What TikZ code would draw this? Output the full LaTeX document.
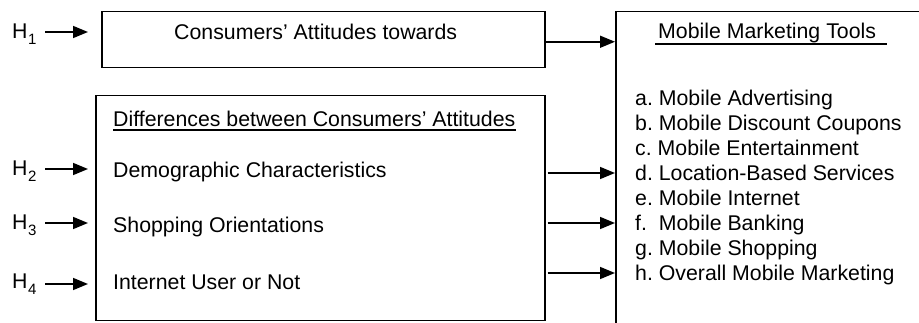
\documentclass[tikz,border=0pt]{standalone}
\usepackage{fontspec}
\setmainfont{Liberation Sans}
\usetikzlibrary{arrows.meta}
\frenchspacing
\newcommand\hyplabel[1]{H\kern0.6pt\raisebox{-6pt}{\fontsize{15}{15}\selectfont #1}}
\begin{document}
\begin{tikzpicture}[x=1pt,y=-1pt,
  box/.style={draw, line width=1.5pt, inner sep=0pt, anchor=north west},
  txt/.style={inner sep=0pt, anchor=west, text height=15pt, text depth=0pt, font=\fontsize{21.3}{25}\selectfont\frenchspacing},
  arr/.style={line width=1.6pt, -{Triangle[length=15pt,width=12pt]}},
  uline/.style={line width=1.6pt}]
\useasboundingbox (0,0) rectangle (919,323);
\clip (0,0) rectangle (919,323);

% boxes
\node[box, minimum width=443pt, minimum height=56pt] (top) at (101,11) {};
\node[box, minimum width=449pt, minimum height=225pt] (low) at (95,95) {};
\node[box, minimum width=330pt, minimum height=340pt] (rbox) at (615,11) {};

% top box text
\node[txt] (ttl) at (174,32) {Consumers' Attitudes towards};

% lower box texts
\node[txt] (dif) at (113,119) {Differences between Consumers' Attitudes};
\draw[uline] ([yshift=-3.5pt]dif.south west) -- ([yshift=-3.5pt]dif.south east);
\node[txt] (dem) at (113,170) {Demographic Characteristics};
\node[txt] (sho) at (113,225) {Shopping Orientations};
\node[txt] (int) at (113,282) {Internet User or Not};

% right box texts
\node[txt] (mmt) at (658,31) {Mobile Marketing Tools};
\draw[uline] ([xshift=-3pt,yshift=-5.5pt]mmt.south west) -- ([xshift=11pt,yshift=-5.5pt]mmt.south east);
\node[txt] (ia) at (635,98)  {a. Mobile Advertising};
\node[txt] (ib) at (635,123) {b. Mobile Discount Coupons};
\node[txt] (ic) at (635,148) {c. Mobile Entertainment};
\node[txt] (id) at (635,173) {d. Location-Based Services};
\node[txt] (ie) at (635,198) {e. Mobile Internet};
\node[txt] (if) at (635,223) {f.\ \ Mobile Banking};
\node[txt] (ig) at (635,248) {g. Mobile Shopping};
\node[txt] (ih) at (635,273) {h. Overall Mobile Marketing};

% hypothesis labels
\node[txt] (h1) at (12,31)  {\hyplabel{1}};
\node[txt] (h2) at (12,168) {\hyplabel{2}};
\node[txt] (h3) at (12,222) {\hyplabel{3}};
\node[txt] (h4) at (12,281) {\hyplabel{4}};

\coordinate (s1) at (45,32);
\coordinate (s2) at (45,169);
\coordinate (s3) at (45,223);
\coordinate (s4) at (45,284);

% input arrows
\draw[arr, shorten >=13pt] (s1) -- (s1 -| top.west);
\draw[arr, shorten >=7pt] (s2) -- (s2 -| low.west);
\draw[arr, shorten >=7pt] (s3) -- (s3 -| low.west);
\draw[arr, shorten >=7pt] (s4) -- (s4 -| low.west);

% output arrows
\draw[arr] ([yshift=-2pt]top.east) -- ([yshift=-2pt]top.east -| rbox.west);
\draw[arr, shorten <=2pt] (low.east |- id.west) -- (id.west -| rbox.west);
\draw[arr, shorten <=2pt] (low.east |- if.west) -- (if.west -| rbox.west);
\draw[arr, shorten <=2pt] (low.east |- ih.west) -- (ih.west -| rbox.west);
\end{tikzpicture}
\end{document}
